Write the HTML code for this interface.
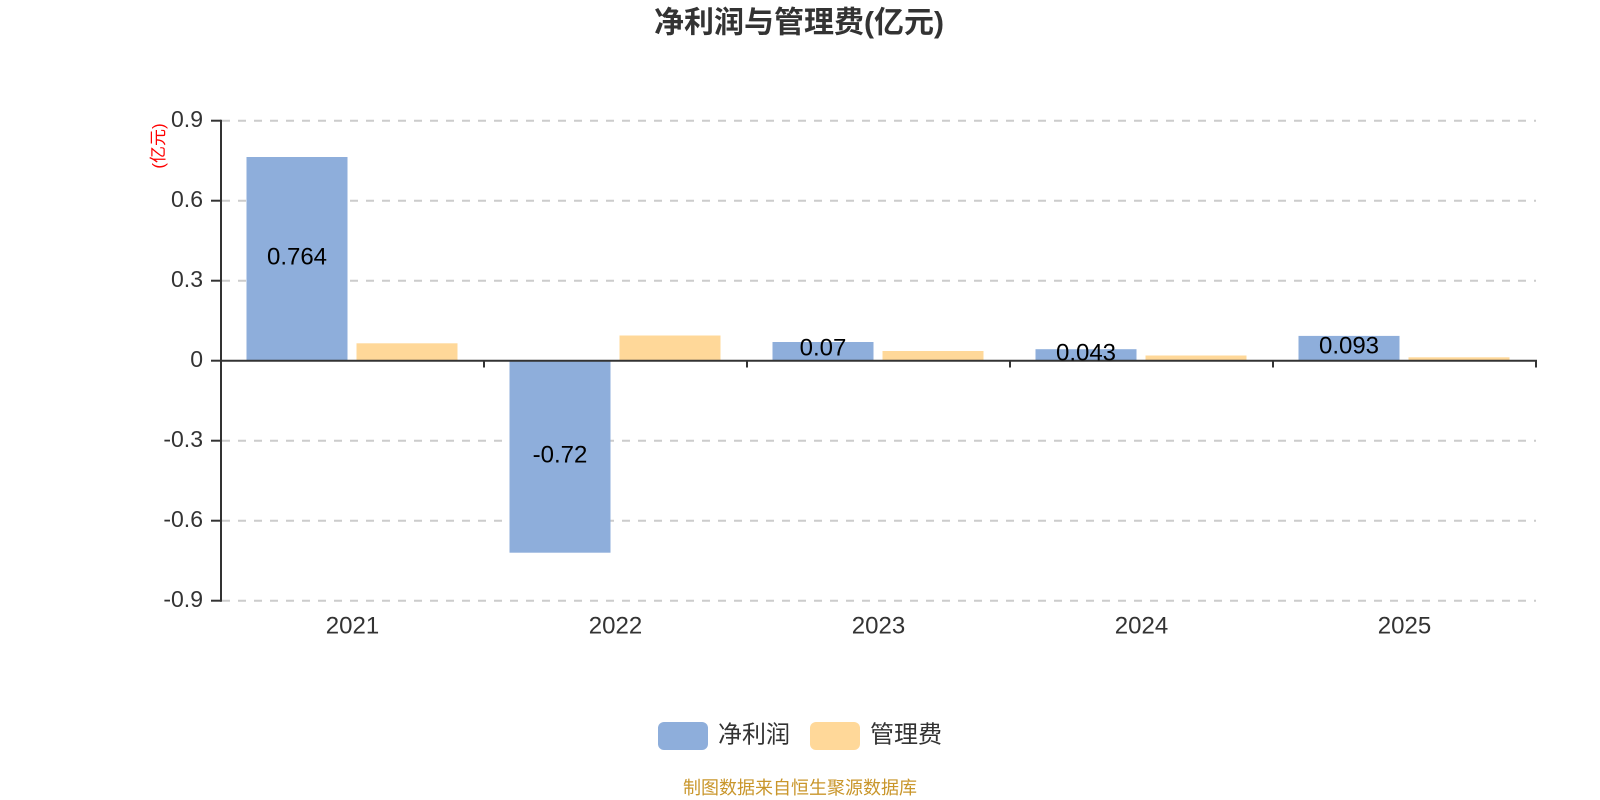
<!DOCTYPE html>
<html>
<head>
<meta charset="utf-8">
<style>
  html,body{margin:0;padding:0;background:#fff;}
  body{width:1600px;height:800px;overflow:hidden;}
  svg{display:block;}
  text{font-family:"Liberation Sans","Noto Sans CJK SC",sans-serif;}
</style>
</head>
<body>
<svg width="1600" height="800" viewBox="0 0 1600 800" xmlns="http://www.w3.org/2000/svg">
  <rect x="0" y="0" width="1600" height="800" fill="#ffffff"/>

  <!-- Title -->
  <text x="799" y="23" text-anchor="middle" dominant-baseline="central" font-size="30" font-weight="bold" fill="#333333">净利润与管理费(亿元)</text>

  <!-- Grid lines -->
  <g stroke="#cccccc" stroke-width="2" stroke-dasharray="8,8">
    <line x1="222" y1="120.7" x2="1536" y2="120.7"/>
    <line x1="222" y1="200.7" x2="1536" y2="200.7"/>
    <line x1="222" y1="280.7" x2="1536" y2="280.7"/>
    <line x1="222" y1="440.7" x2="1536" y2="440.7"/>
    <line x1="222" y1="520.7" x2="1536" y2="520.7"/>
    <line x1="222" y1="600.7" x2="1536" y2="600.7"/>
  </g>

  <!-- Bars: blue (净利润) -->
  <g fill="#8eaedb">
    <rect x="246.5" y="157" width="101" height="203.7"/>
    <rect x="509.5" y="360.7" width="101" height="192"/>
    <rect x="772.5" y="342" width="101" height="18.7"/>
    <rect x="1035.5" y="349.2" width="101" height="11.5"/>
    <rect x="1298.5" y="335.9" width="101" height="24.8"/>
  </g>
  <!-- Bars: orange (管理费) -->
  <g fill="#ffd899">
    <rect x="356.5" y="343.3" width="101" height="17.4"/>
    <rect x="619.5" y="335.5" width="101" height="25.2"/>
    <rect x="882.5" y="351" width="101" height="9.7"/>
    <rect x="1145.5" y="355.5" width="101" height="5.2"/>
    <rect x="1408.5" y="357.3" width="101" height="3.4"/>
  </g>

  <!-- Axes -->
  <g stroke="#333333" stroke-width="2" fill="none">
    <line x1="221" y1="119.7" x2="221" y2="601.7"/>
    <line x1="220" y1="360.7" x2="1537" y2="360.7"/>
    <!-- y ticks -->
    <line x1="211" y1="120.7" x2="221" y2="120.7"/>
    <line x1="211" y1="200.7" x2="221" y2="200.7"/>
    <line x1="211" y1="280.7" x2="221" y2="280.7"/>
    <line x1="211" y1="360.7" x2="221" y2="360.7"/>
    <line x1="211" y1="440.7" x2="221" y2="440.7"/>
    <line x1="211" y1="520.7" x2="221" y2="520.7"/>
    <line x1="211" y1="600.7" x2="221" y2="600.7"/>
    <!-- x ticks -->
    <line x1="484" y1="360.7" x2="484" y2="367.5"/>
    <line x1="747" y1="360.7" x2="747" y2="367.5"/>
    <line x1="1010" y1="360.7" x2="1010" y2="367.5"/>
    <line x1="1273" y1="360.7" x2="1273" y2="367.5"/>
    <line x1="1536" y1="360.7" x2="1536" y2="367.5"/>
  </g>

  <!-- Y labels -->
  <g font-size="23" fill="#333333" text-anchor="end" dominant-baseline="central">
    <text x="203" y="119">0.9</text>
    <text x="203" y="199">0.6</text>
    <text x="203" y="279">0.3</text>
    <text x="203" y="359">0</text>
    <text x="203" y="439">-0.3</text>
    <text x="203" y="519">-0.6</text>
    <text x="203" y="599">-0.9</text>
  </g>

  <!-- Y axis unit -->
  <text x="0" y="0" font-size="17" fill="#ff0000" text-anchor="middle" dominant-baseline="central" transform="translate(158.5,146) rotate(-90)">(亿元)</text>

  <!-- X labels -->
  <g font-size="24" fill="#333333" text-anchor="middle" dominant-baseline="central">
    <text x="352.5" y="626">2021</text>
    <text x="615.5" y="626">2022</text>
    <text x="878.5" y="626">2023</text>
    <text x="1141.5" y="626">2024</text>
    <text x="1404.5" y="626">2025</text>
  </g>

  <!-- Value labels -->
  <g font-size="24" fill="#000000" text-anchor="middle" dominant-baseline="central">
    <text x="297" y="257">0.764</text>
    <text x="560" y="455">-0.72</text>
    <text x="823" y="348">0.07</text>
    <text x="1086" y="353">0.043</text>
    <text x="1349" y="346">0.093</text>
  </g>

  <!-- Legend -->
  <rect x="658" y="722" width="50" height="28" rx="6" ry="6" fill="#8eaedb"/>
  <text x="718" y="735" font-size="24" fill="#333333" dominant-baseline="central">净利润</text>
  <rect x="810" y="722" width="50" height="28" rx="6" ry="6" fill="#ffd899"/>
  <text x="870" y="735" font-size="24" fill="#333333" dominant-baseline="central">管理费</text>

  <!-- Footer -->
  <text x="800" y="788" font-size="18" fill="#c9962b" text-anchor="middle" dominant-baseline="central">制图数据来自恒生聚源数据库</text>
</svg>
</body>
</html>
